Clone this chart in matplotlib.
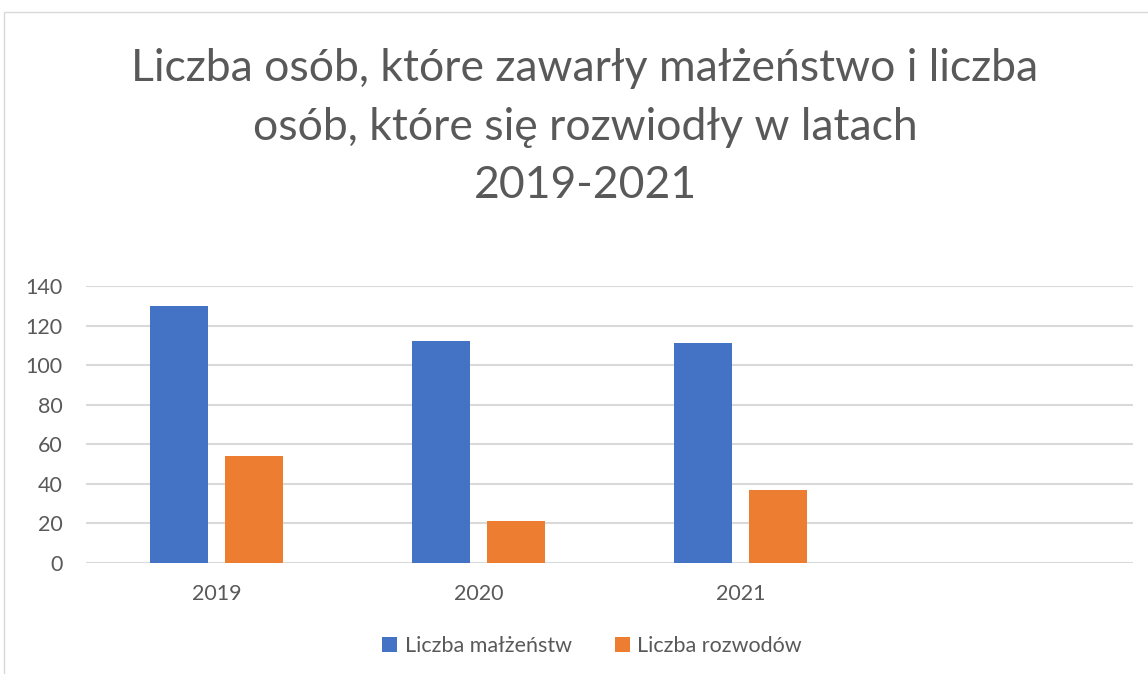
import matplotlib
matplotlib.use("Agg")
import matplotlib.pyplot as plt
from matplotlib.patches import Rectangle
import numpy as np

plt.rcParams['font.family'] = ['Lato', 'DejaVu Sans']

years = ["2019", "2020", "2021"]
marriages = [130, 112, 111]
divorces = [54, 21, 37]
series_names = ["Liczba małżeństw", "Liczba rozwodów"]
yticks = [0, 20, 40, 60, 80, 100, 120, 140]
title = "Liczba osób, które zawarły małżeństwo i liczba\nosób, które się rozwiodły w latach\n2019-2021"

BLUE = "#4472C4"
ORANGE = "#ED7D31"
GRID = "#D9D9D9"
TXT = "#595959"

W, H = 1148, 674
fig = plt.figure(figsize=(W / 100, H / 100), dpi=100)
fig.patch.set_facecolor("white")

# chart border
fig.add_artist(Rectangle((4 / W, -0.1), 1.2, 1 - 12 / H + 0.1, transform=fig.transFigure,
                         fill=False, edgecolor=GRID, linewidth=1.0))

ax = fig.add_axes([86 / W, 1 - 563 / H, (1133 - 86) / W, (563 - 286) / H])
x = np.arange(len(years))
bw = 0.222
off = 0.1435
ax.bar(x - off, marriages, bw, color=BLUE, label=series_names[0], zorder=3)
ax.bar(x + off, divorces, bw, color=ORANGE, label=series_names[1], zorder=3)

ax.set_xlim(-0.5, len(years) + 0.5)
ax.set_ylim(0, 140)
ax.set_yticks(yticks)
ax.set_xticks(x)
ax.set_xticklabels(years)
for s in ax.spines.values():
    s.set_visible(False)
ax.yaxis.grid(True, color=GRID, linewidth=1.5, zorder=0)
ax.set_axisbelow(True)
ax.tick_params(axis='both', length=0, colors=TXT, labelsize=15.5)
ax.tick_params(axis='y', pad=17)
ax.tick_params(axis='x', pad=15)

fig.text(585 / W, 1 - 127 / H, title, ha='center', va='center', fontsize=32,
         color=TXT, linespacing=1.52)

leg = fig.legend(loc='center', bbox_to_anchor=(592 / W, 1 - 646 / H), ncol=2,
                 frameon=False, fontsize=15.5, handlelength=0.7, handleheight=0.7,
                 handletextpad=0.35, columnspacing=2.0)
for t in leg.get_texts():
    t.set_color(TXT)

fig.savefig("out.png", dpi=100)
